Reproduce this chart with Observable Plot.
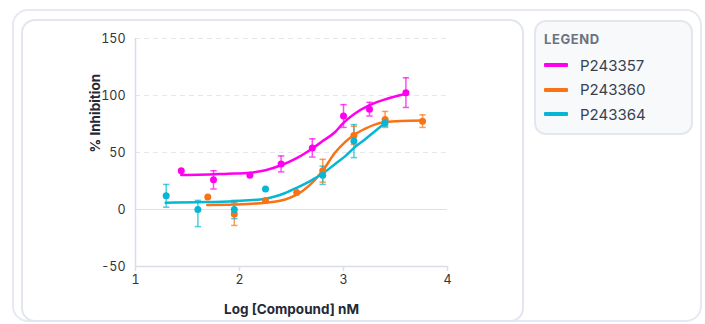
<!DOCTYPE html>
<html>
<head>
<meta charset="utf-8">
<script src="https://cdn.jsdelivr.net/npm/d3@7"></script>
<script src="https://cdn.jsdelivr.net/npm/@observablehq/plot@0.6"></script>
<style>
  html, body { margin: 0; padding: 0; background: #ffffff; }
  body { width: 705px; height: 324px; overflow: hidden; position: relative; font-family: Inter, "Noto Sans", sans-serif; }
  .outer { position: absolute; left: 12px; top: 9px; width: 690px; height: 313px; box-sizing: border-box; border: 2px solid #e6e9f2; border-radius: 16px; }
  .panel { position: absolute; left: 21px; top: 19px; width: 503px; height: 303px; box-sizing: border-box; border: 2px solid #e2e6ef; border-radius: 14px; background: #fff; }
  #chart { position: absolute; left: 0; top: 0; }
  .legend { position: absolute; left: 534px; top: 20px; width: 159px; height: 115px; box-sizing: border-box; border: 2px solid #e4e7ee; border-radius: 12px; background: #f8f9fb; }
  .legend .title { position: absolute; left: 8px; top: 9px; font-size: 13px; font-weight: 700; color: #6b7280; letter-spacing: 0.6px; }
  .legend .item { position: absolute; left: 8px; height: 20px; display: flex; align-items: center; }
  .legend .sw { width: 24px; height: 4px; border-radius: 1px; margin-right: 12px; }
  .legend .lab { font-size: 15px; color: #374151; }
</style>
</head>
<body>
<div class="outer"></div>
<div class="panel"></div>
<div id="chart"></div>
<div class="legend" id="legend"><div class="title">LEGEND</div></div>
<script>
// ---- data ----
const series = ["P243357", "P243360", "P243364"];
const seriesColors = ["#ff00ee", "#f97316", "#06b6d4"];
const xTicks = [1, 2, 3, 4];
const yTicks = [-50, 0, 50, 100, 150];

// measured points (x = log concentration, y = % inhibition, errLo / errHi = error bar extents, null = none)
const p357X  = [1.44, 1.75, 2.10, 2.40, 2.70, 3.00, 3.25, 3.60];
const p357Y  = [34, 26, 30, 40, 54, 82, 88, 102.5];
const p357Lo = [null, 8, null, 7, 8, 10, 6, 13];
const p357Hi = [null, 8, null, 7, 8, 10, 6, 13];

const p360X  = [1.695, 1.95, 2.25, 2.55, 2.80, 3.10, 3.40, 3.76];
const p360Y  = [11, -4, 8, 15, 34, 65, 79, 77.5];
const p360Lo = [null, 10, null, null, 10, 8, 7, 5.5];
const p360Hi = [null, 10, null, null, 10, 8, 7, 5.5];

const p364X  = [1.295, 1.60, 1.95, 2.25, 2.80, 3.10, 3.40];
const p364Y  = [12, 0, 0, 18, 30, 60, 76];
const p364Lo = [10, 15, 8, null, 8, 14.5, 3];
const p364Hi = [10, 8, 8, null, 8, 14.5, 3];

// fitted curves, points
const c357X = [1.44, 1.60, 1.75, 1.95, 2.10, 2.25, 2.40, 2.55, 2.70, 2.80, 2.92, 3.00, 3.10, 3.25, 3.45, 3.60];
const c357Y = [30.3, 30.5, 30.9, 31.5, 32.3, 34.5, 38.8, 45, 53.5, 60, 68, 76, 83.5, 91.5, 98, 101.5];

const c360X = [1.69, 1.95, 2.25, 2.44, 2.55, 2.67, 2.80, 2.92, 3.02, 3.11, 3.21, 3.30, 3.40, 3.55, 3.76];
const c360Y = [4, 4.4, 6, 8.8, 13, 21, 34, 50, 59.5, 66, 71, 74.5, 76.7, 77.7, 78];

const c364X = [1.29, 1.60, 1.95, 2.25, 2.44, 2.55, 2.67, 2.80, 2.92, 3.02, 3.10, 3.20, 3.30, 3.40];
const c364Y = [6, 6.4, 7.3, 9.5, 14.5, 19, 24.5, 31.5, 40, 47, 54, 61, 68.5, 76];

// ---- tables ----
const ptSets = [[p357X, p357Y, p357Lo, p357Hi], [p360X, p360Y, p360Lo, p360Hi], [p364X, p364Y, p364Lo, p364Hi]];
const points = series.flatMap((s, i) => ptSets[i][0].map((x, j) => ({
  s, x, y: ptSets[i][1][j],
  lo: ptSets[i][2][j] == null ? null : ptSets[i][1][j] - ptSets[i][2][j],
  hi: ptSets[i][3][j] == null ? null : ptSets[i][1][j] + ptSets[i][3][j]
})));
const errs = points.filter(d => d.lo != null);
const caps = errs.flatMap(d => [{s: d.s, x: d.x, y: d.lo}, {s: d.s, x: d.x, y: d.hi}]);
const curveSets = [[c357X, c357Y], [c360X, c360Y], [c364X, c364Y]];
const curves = series.flatMap((s, i) => curveSets[i][0].map((x, j) => ({s, x, y: curveSets[i][1][j]})));

const capSymbol = { draw(ctx, size) { const r = Math.sqrt(size / Math.PI); ctx.moveTo(-r, 0); ctx.lineTo(r, 0); } };

const chart = Plot.plot({
  width: 524,
  height: 322,
  marginLeft: 135,
  marginRight: 77,
  marginTop: 38,
  marginBottom: 56,
  style: { background: "transparent", fontFamily: "Inter, sans-serif", fontSize: "12px", color: "#333" },
  x: { domain: [1, 4] },
  y: { domain: [-50, 150] },
  color: { domain: series, range: seriesColors },
  marks: [
    Plot.ruleY([50, 100, 150], { stroke: "#e3e6ec", strokeDasharray: "5,4", strokeWidth: 1 }),
    Plot.ruleY([0], { stroke: "#dde2ea", strokeWidth: 1.2 }),
    Plot.ruleY([-50], { stroke: "#d8dde8", strokeWidth: 1.5 }),
    Plot.ruleX([1], { stroke: "#d8dde8", strokeWidth: 1.5 }),
    Plot.axisX({ ticks: xTicks, tickSize: 5, tickPadding: 4, tickFormat: d => String(d), label: null, stroke: "#d8dde8", strokeWidth: 1.5, fill: "#333", fontSize: 12.5 }),
    Plot.axisY({ ticks: yTicks, tickSize: 0, tickPadding: 10, tickFormat: d => String(d), label: null, fill: "#333", fontSize: 12.5 }),
    Plot.ruleX(errs, { x: "x", y1: "lo", y2: "hi", stroke: "s", strokeWidth: 1.5, strokeOpacity: 0.7 }),
    Plot.dot(caps, { x: "x", y: "y", symbol: capSymbol, r: 3.2, stroke: "s", strokeWidth: 1.5, strokeOpacity: 0.7, fill: "none" }),
    Plot.line(curves, { x: "x", y: "y", z: "s", stroke: "s", strokeWidth: 2.5, curve: "monotone-x" }),
    Plot.dot(points, { x: "x", y: "y", fill: "s", r: 3.5 }),
    Plot.text(["% Inhibition"], { text: d => d, frameAnchor: "left", dx: -40, rotate: -90, fontWeight: "bold", fontSize: 13.5, fill: "#1f2937", lineAnchor: "middle" }),
    Plot.text(["Log [Compound] nM"], { text: d => d, frameAnchor: "bottom", dy: 43, fontWeight: "bold", fontSize: 13.5, fill: "#1f2937", lineAnchor: "middle" })
  ]
});
document.getElementById("chart").appendChild(chart);

const legend = document.getElementById("legend");
series.forEach((s, i) => {
  const it = document.createElement("div");
  it.className = "item";
  it.style.top = (33 + i * 24.5) + "px";
  it.innerHTML = `<div class="sw" style="background:${seriesColors[i]}"></div><div class="lab">${s}</div>`;
  legend.appendChild(it);
});
</script>
</body>
</html>
